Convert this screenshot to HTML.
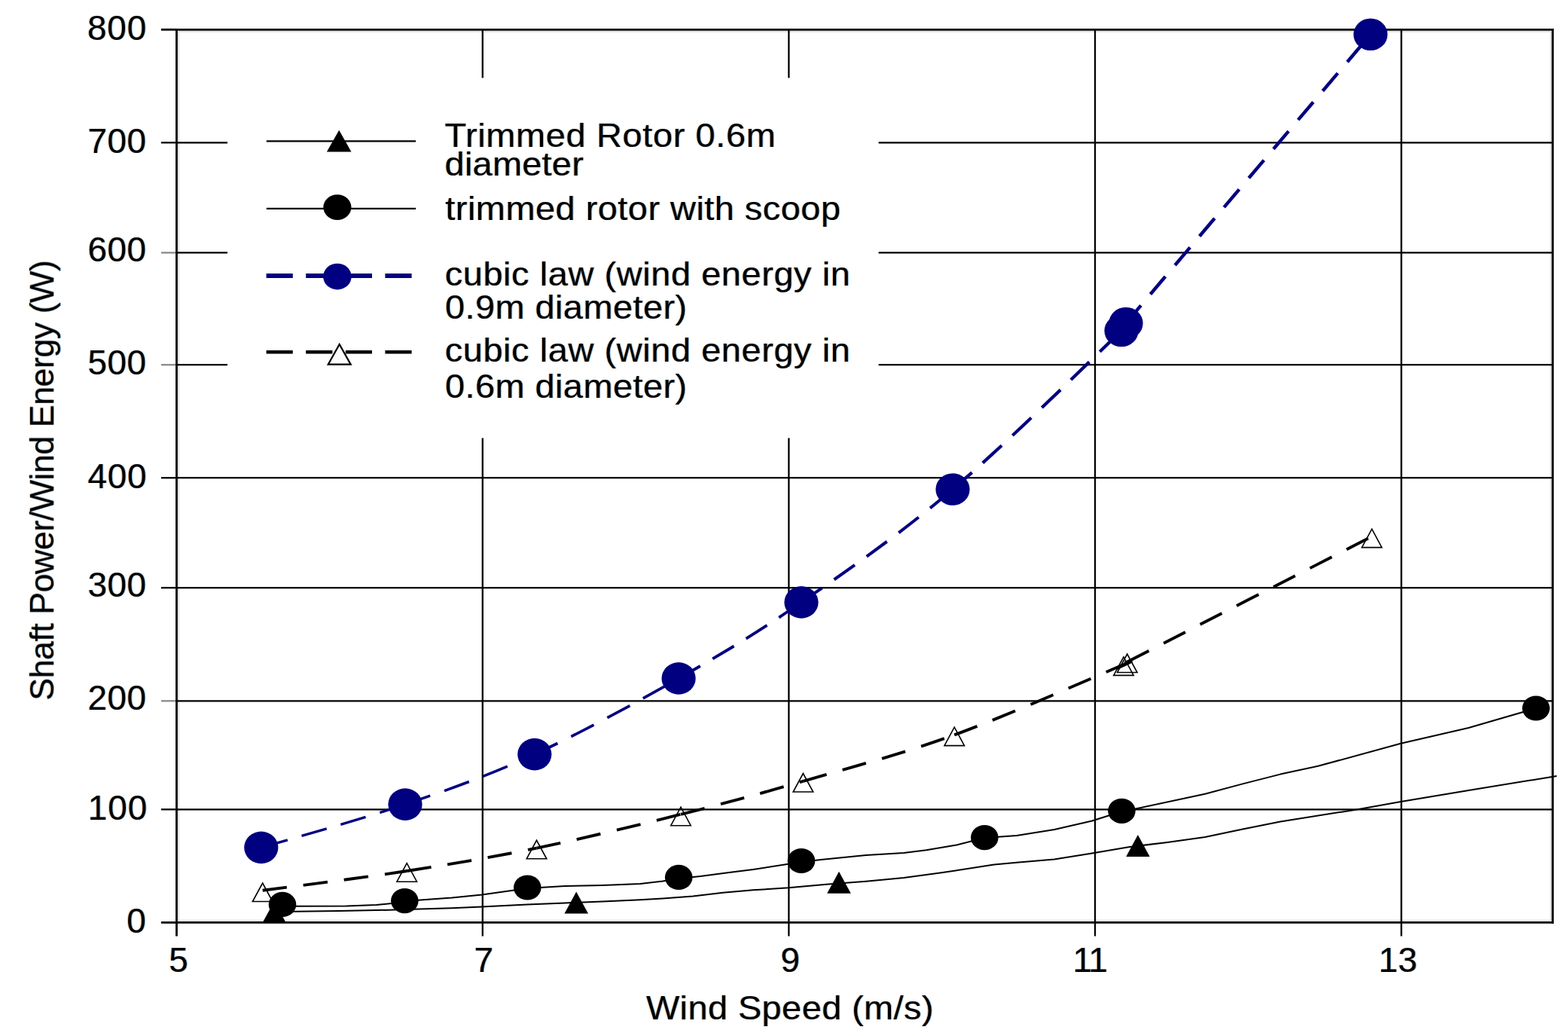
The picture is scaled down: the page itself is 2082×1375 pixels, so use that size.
<!DOCTYPE html><html><head><meta charset="utf-8"><title>Shaft Power / Wind Energy vs Wind Speed</title>
<style>html,body{margin:0;padding:0;background:#fff;}svg{display:block;}text{font-family:"Liberation Sans",Arial,sans-serif;}</style></head><body>
<svg width="2082" height="1375" viewBox="0 0 2082 1375">
<rect x="0" y="0" width="2082" height="1375" fill="#fff"/>
<g stroke="#e4e4e4" stroke-width="2.2" fill="none">
<line x1="237.1" y1="41.9" x2="2059.1" y2="41.9"/>
<line x1="237.1" y1="1221.8000000000002" x2="2059.1" y2="1221.8000000000002"/>
<line x1="237.1" y1="41.9" x2="237.1" y2="1221.8000000000002"/>
<line x1="2059.1" y1="41.9" x2="2059.1" y2="1221.8000000000002"/>
</g>
<g stroke="#000" stroke-width="2.3" fill="none">
<line x1="234.5" y1="189.3" x2="2061.7" y2="189.3"/>
<line x1="234.5" y1="335.4" x2="2061.7" y2="335.4"/>
<line x1="234.5" y1="484.2" x2="2061.7" y2="484.2"/>
<line x1="234.5" y1="634.2" x2="2061.7" y2="634.2"/>
<line x1="234.5" y1="780.1" x2="2061.7" y2="780.1"/>
<line x1="234.5" y1="930.3" x2="2061.7" y2="930.3"/>
<line x1="234.5" y1="1074.3" x2="2061.7" y2="1074.3"/>
<line x1="640.8" y1="39.3" x2="640.8" y2="1242.5"/>
<line x1="1047.4" y1="39.3" x2="1047.4" y2="1242.5"/>
<line x1="1454.0" y1="39.3" x2="1454.0" y2="1242.5"/>
<line x1="1860.7" y1="39.3" x2="1860.7" y2="1242.5"/>
</g>
<line x1="214" y1="39.3" x2="234.5" y2="39.3" stroke="#000" stroke-width="2.8"/>
<line x1="214" y1="189.3" x2="234.5" y2="189.3" stroke="#000" stroke-width="2.3"/>
<line x1="214" y1="335.4" x2="234.5" y2="335.4" stroke="#8a8a8a" stroke-width="2.3"/>
<line x1="214" y1="484.2" x2="234.5" y2="484.2" stroke="#8a8a8a" stroke-width="2.3"/>
<line x1="214" y1="634.2" x2="234.5" y2="634.2" stroke="#000" stroke-width="2.3"/>
<line x1="214" y1="780.1" x2="234.5" y2="780.1" stroke="#000" stroke-width="2.3"/>
<line x1="214" y1="930.3" x2="234.5" y2="930.3" stroke="#8a8a8a" stroke-width="2.3"/>
<line x1="214" y1="1074.3" x2="234.5" y2="1074.3" stroke="#000" stroke-width="2.3"/>
<line x1="214" y1="1224.4" x2="234.5" y2="1224.4" stroke="#000" stroke-width="2.8"/>
<g stroke="#000" stroke-width="2.8" fill="none">
<line x1="233.1" y1="39.3" x2="2063.1" y2="39.3"/>
<line x1="233.1" y1="1224.4" x2="2063.1" y2="1224.4"/>
<line x1="234.5" y1="37.9" x2="234.5" y2="1242.5"/>
<line x1="2061.7" y1="37.9" x2="2061.7" y2="1225.8000000000002"/>
</g>
<rect x="302.0" y="103.4" width="864.6" height="478.0" fill="#fff"/>
<polyline points="364.2,1210.0 393.0,1209.8 450.0,1209.1 500.0,1208.1 540.0,1207.1 600.0,1205.3 640.0,1203.6 700.0,1200.6 750.0,1198.4 800.0,1196.4 850.0,1194.3 880.0,1192.4 920.0,1189.5 960.0,1184.7 1000.0,1181.3 1047.0,1178.3 1100.0,1173.5 1150.0,1169.8 1200.0,1165.0 1250.0,1158.3 1320.0,1147.5 1350.0,1144.8 1400.0,1140.5 1450.0,1132.4 1500.0,1124.0 1550.0,1118.0 1600.0,1111.0 1650.0,1100.5 1700.0,1090.4 1800.0,1074.7 1860.0,1064.0 1950.0,1049.0 2067.0,1030.0" fill="none" stroke="#000" stroke-width="2" stroke-linejoin="round"/>
<polyline points="375.0,1202.6 393.0,1202.8 460.0,1202.6 500.0,1201.0 520.0,1199.0 537.3,1196.0 600.0,1191.6 640.0,1187.6 700.3,1179.0 750.0,1176.0 800.0,1175.0 850.0,1173.0 880.0,1169.6 901.2,1166.0 930.0,1163.0 970.0,1157.8 1000.0,1154.0 1045.0,1147.0 1064.0,1144.0 1090.0,1141.0 1150.0,1135.0 1200.0,1132.0 1230.0,1128.2 1270.0,1121.5 1307.3,1112.0 1350.0,1109.0 1400.0,1101.0 1450.0,1089.5 1489.4,1077.0 1515.0,1071.9 1600.0,1053.8 1650.0,1040.4 1700.0,1027.6 1750.0,1016.8 1860.0,986.8 1950.0,966.0 2039.5,940.0" fill="none" stroke="#000" stroke-width="2" stroke-linejoin="round"/>
<g fill="none" stroke="#000" stroke-width="3.9" stroke-dasharray="32.5 22">
<path d="M348.7,1181.8 C380.6,1177.5 479.6,1165.4 540.2,1156.0"/>
<path d="M540.2,1156.0 C600.8,1146.6 651.9,1138.1 712.5,1125.6"/>
<path d="M712.5,1125.6 C773.1,1113.1 845.0,1095.6 904.0,1080.8"/>
<path d="M904.0,1080.8 C963.0,1066.0 1005.9,1054.4 1066.4,1036.8"/>
<path d="M1066.4,1036.8 C1126.9,1019.2 1196.3,1001.2 1267.2,975.4"/>
<path d="M1267.2,975.4 C1338.1,949.6 1453.7,898.1 1491.9,882.0"/>
<path d="M1491.9,882.0 C1530.2,865.9 1441.8,906.8 1496.7,878.5"/>
<path d="M1496.7,878.5 C1551.7,850.2 1767.4,739.8 1821.6,712.0"/>
</g>
<g fill="none" stroke="#000080">
<path d="M346.8,1124.9 C378.7,1115.4 477.5,1088.2 538.0,1067.6" stroke-width="3.4" stroke-dasharray="34.5 19.5" stroke-dashoffset="-2"/>
<path d="M538.0,1067.6 C598.5,1047.0 649.3,1029.0 709.8,1001.1" stroke-width="3.5" stroke-dasharray="35 20"/>
<path d="M709.8,1001.1 C770.3,973.2 842.1,934.0 901.1,900.4" stroke-width="3.7" stroke-dasharray="34 20"/>
<path d="M901.1,900.4 C960.1,866.8 1003.4,841.2 1064.0,799.4" stroke-width="3.9" stroke-dasharray="33 19"/>
<path d="M1064.0,799.4 C1124.7,757.6 1194.2,709.6 1265.0,649.5" stroke-width="4.1" stroke-dasharray="33.5 19.5"/>
<path d="M1265.0,649.5 C1335.8,589.4 1450.7,475.8 1489.0,439.0" stroke-width="4.3" stroke-dasharray="34 19.5"/>
<path d="M1489.0,439.0 C1527.3,402.2 1439.9,494.5 1495.0,429.0" stroke-width="4.3" stroke-dasharray="34 19.5"/>
<path d="M1495.0,429.0 C1550.1,363.5 1765.7,109.7 1819.8,45.8" stroke-width="4.5" stroke-dasharray="31 19.5"/>
</g>
<polygon points="348.4,1225.0 364.2,1196.0 379.9,1225.0" fill="#000"/>
<polygon points="749.5,1212.6 765.2,1183.6 781.0,1212.6" fill="#000"/>
<polygon points="1098.2,1185.7 1114.0,1156.7 1129.8,1185.7" fill="#000"/>
<polygon points="1495.2,1137.0 1510.9,1108.0 1526.7,1137.0" fill="#000"/>
<polygon points="335.4,1196.5 348.7,1172.0 361.9,1196.5" fill="none" stroke="#000" stroke-width="1.6"/>
<polygon points="527.0,1170.2 540.2,1145.7 553.5,1170.2" fill="none" stroke="#000" stroke-width="1.6"/>
<polygon points="699.2,1139.8 712.5,1115.3 725.8,1139.8" fill="none" stroke="#000" stroke-width="1.6"/>
<polygon points="890.8,1095.7 904.0,1071.2 917.2,1095.7" fill="none" stroke="#000" stroke-width="1.6"/>
<polygon points="1053.2,1051.0 1066.4,1026.5 1079.7,1051.0" fill="none" stroke="#000" stroke-width="1.6"/>
<polygon points="1254.0,989.6 1267.2,965.1 1280.5,989.6" fill="none" stroke="#000" stroke-width="1.6"/>
<polygon points="1478.7,896.4 1491.9,871.9 1505.2,896.4" fill="none" stroke="#000" stroke-width="1.6"/>
<polygon points="1483.5,892.5 1496.7,868.0 1510.0,892.5" fill="none" stroke="#000" stroke-width="1.6"/>
<polygon points="1808.3,726.6 1821.6,702.1 1834.8,726.6" fill="none" stroke="#000" stroke-width="1.6"/>
<ellipse cx="375.0" cy="1200.4" rx="18.3" ry="16.6" fill="#000"/>
<ellipse cx="537.3" cy="1195.6" rx="18.3" ry="16.6" fill="#000"/>
<ellipse cx="700.3" cy="1178.0" rx="18.3" ry="16.6" fill="#000"/>
<ellipse cx="901.2" cy="1164.4" rx="18.3" ry="16.6" fill="#000"/>
<ellipse cx="1064.0" cy="1142.5" rx="18.3" ry="16.6" fill="#000"/>
<ellipse cx="1307.3" cy="1111.6" rx="18.3" ry="16.6" fill="#000"/>
<ellipse cx="1489.4" cy="1076.3" rx="18.3" ry="16.6" fill="#000"/>
<ellipse cx="2039.5" cy="940.0" rx="18.3" ry="16.6" fill="#000"/>
<ellipse cx="346.8" cy="1124.9" rx="22.6" ry="21.3" fill="#000080"/>
<ellipse cx="538.0" cy="1067.6" rx="22.6" ry="21.3" fill="#000080"/>
<ellipse cx="709.8" cy="1001.1" rx="22.6" ry="21.3" fill="#000080"/>
<ellipse cx="901.1" cy="900.4" rx="22.6" ry="21.3" fill="#000080"/>
<ellipse cx="1064.0" cy="799.4" rx="22.6" ry="21.3" fill="#000080"/>
<ellipse cx="1265.0" cy="649.5" rx="22.6" ry="21.3" fill="#000080"/>
<ellipse cx="1489.0" cy="439.0" rx="22.6" ry="21.3" fill="#000080"/>
<ellipse cx="1495.0" cy="429.0" rx="22.6" ry="21.3" fill="#000080"/>
<ellipse cx="1819.8" cy="45.8" rx="22.6" ry="21.3" fill="#000080"/>
<g>
<line x1="353.8" y1="187.3" x2="552.1" y2="187.3" stroke="#000" stroke-width="2.3"/>
<polygon points="433.9,201.4 450.2,172.8 466.5,201.4" fill="#000"/>
<line x1="353.8" y1="276.8" x2="552.1" y2="276.8" stroke="#000" stroke-width="2.3"/>
<ellipse cx="447.9" cy="275.1" rx="18.6" ry="16.9" fill="#000"/>
<line x1="353.6" y1="366.1" x2="548" y2="366.1" stroke="#000080" stroke-width="6" stroke-dasharray="35.2 17.4"/>
<ellipse cx="447.9" cy="367.1" rx="18.8" ry="17.3" fill="#000080"/>
<line x1="353.6" y1="467.3" x2="548" y2="467.3" stroke="#000" stroke-width="4.6" stroke-dasharray="35.2 17.4"/>
<polygon points="435.7,483.7 450.7,456.9 465.7,483.7" fill="#fff" stroke="#000" stroke-width="2.2"/>
</g>
<defs><filter id="ct" filterUnits="userSpaceOnUse" x="0" y="0" width="2082" height="1375" color-interpolation-filters="sRGB"><feOffset in="SourceAlpha" dx="-1.2" dy="0" result="l"/><feFlood flood-color="#e8903a" flood-opacity="0.6"/><feComposite in2="l" operator="in" result="lo"/><feOffset in="SourceAlpha" dx="1.2" dy="0" result="r"/><feFlood flood-color="#2a8ee8" flood-opacity="0.6"/><feComposite in2="r" operator="in" result="ro"/><feMerge><feMergeNode in="lo"/><feMergeNode in="ro"/><feMergeNode in="SourceGraphic"/></feMerge></filter></defs>
<g fill="#000" filter="url(#ct)">
<text x="115.9" y="53.0" font-size="46" letter-spacing="0.9">800</text>
<text x="116.4" y="203.2" font-size="46" letter-spacing="0.5">700</text>
<text x="116.4" y="347.4" font-size="46" letter-spacing="0.5">600</text>
<text x="116.4" y="497.3" font-size="46" letter-spacing="0.5">500</text>
<text x="116.4" y="647.5" font-size="46" letter-spacing="0.75">400</text>
<text x="116.4" y="791.5" font-size="46" letter-spacing="0.5">300</text>
<text x="116.4" y="942.0" font-size="46" letter-spacing="0.5">200</text>
<text x="116.8" y="1088.0" font-size="46" letter-spacing="0.95">100</text>
<text x="168.2" y="1238.3" font-size="46">0</text>
<text x="224.2" y="1290.2" font-size="46">5</text>
<text x="629.5" y="1290.2" font-size="46">7</text>
<text x="1036.4" y="1290.2" font-size="46">9</text>
<text x="1424.6" y="1290.2" font-size="46" letter-spacing="-1.6">11</text>
<text x="1830.4" y="1290.2" font-size="46" letter-spacing="0.2">13</text>
<text transform="translate(857.9,1353.2) scale(1,0.955)" font-size="47" letter-spacing="0.38">Wind Speed (m/s)</text>
<text transform="translate(71.0,929.8) rotate(-90) scale(1,1)" font-size="45" letter-spacing="-0.596">Shaft Power/Wind Energy (W)</text>
<text transform="translate(590.5,194.5) scale(1,0.955)" font-size="47" letter-spacing="0.606">Trimmed Rotor 0.6m</text>
<text transform="translate(590.6,233.3) scale(1,0.955)" font-size="47" letter-spacing="0.2">diameter</text>
<text transform="translate(591.3,292.4) scale(1,0.955)" font-size="47" letter-spacing="0.452">trimmed rotor with scoop</text>
<text transform="translate(590.7,379.2) scale(1,0.955)" font-size="47" letter-spacing="0.554">cubic law (wind energy in</text>
<text transform="translate(591.0,423.3) scale(1,0.955)" font-size="47" letter-spacing="0.4">0.9m diameter)</text>
<text transform="translate(590.7,480.2) scale(1,0.955)" font-size="47" letter-spacing="0.554">cubic law (wind energy in</text>
<text transform="translate(591.0,528.1) scale(1,0.955)" font-size="47" letter-spacing="0.4">0.6m diameter)</text>
</g>
</svg></body></html>
